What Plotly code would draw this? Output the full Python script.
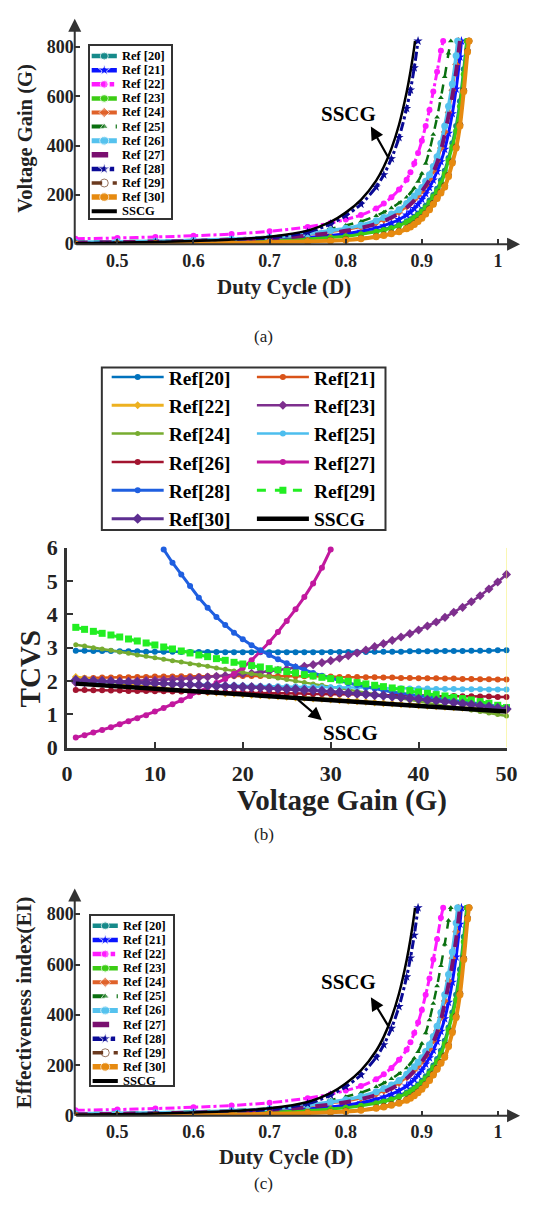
import plotly.graph_objects as go

W, H = 533, 1216
SERIF = "Liberation Serif"


def pxx(p):
    return p / W


def pxy(p):
    return 1 - p / H


# ---------------- panel (a) and (c): gain / effectiveness index vs duty cycle ----------------
D_GRID = [0.445, 0.5, 0.55, 0.6, 0.65, 0.7, 0.75, 0.78, 0.8, 0.82, 0.84, 0.85, 0.86,
          0.87, 0.88, 0.885, 0.89, 0.895, 0.9, 0.905, 0.91, 0.915, 0.92, 0.925, 0.93,
          0.935, 0.94, 0.945, 0.95, 0.955, 0.96]

G_REF20 = [4, 5, 6, 8, 11, 15, 23, 29, 35, 43, 53, 60, 69, 80, 93, 101, 111, 124, 139, 156,
           177, 200, 225, 258, 298, 350, 410, 480, 580, 710]
G_REF21 = [5, 6, 8, 10, 13, 18, 27, 35, 42, 52, 66, 75, 86, 100, 118, 130, 145, 162, 182, 205,
           230, 260, 295, 335, 385, 450, 530, 630, 760]
G_REF22 = [22, 25, 29, 34, 41, 52, 70, 86, 100, 118, 145, 165, 190, 222, 262, 292, 328, 370,
           420, 480, 545, 620, 700, 785]
G_REF23 = [3, 4, 5, 7, 10, 14, 21, 27, 32, 40, 50, 57, 65, 75, 88, 96, 106, 118, 132, 148,
           168, 192, 215, 245, 285, 340, 395, 460, 560, 690]
G_REF24 = [7, 9, 11, 14, 18, 25, 38, 50, 58, 70, 87, 99, 112, 130, 153, 167, 182, 198, 216,
           238, 265, 298, 338, 390, 455, 535, 625, 730]
G_REF25 = [10, 12, 14, 17, 22, 30, 45, 62, 76, 92, 115, 130, 147, 167, 190, 207, 228, 254,
           287, 328, 380, 445, 515, 595, 680, 775]
G_REF26 = [8, 10, 12, 15, 20, 27, 42, 55, 64, 77, 95, 108, 122, 140, 165, 180, 195, 212, 230,
           255, 282, 315, 355, 410, 480, 560, 650, 765]
G_REF27 = [6, 8, 10, 13, 17, 23, 35, 45, 54, 66, 82, 94, 108, 125, 148, 162, 178, 196, 215,
           237, 262, 292, 330, 380, 445, 520, 600, 700]
G_REF28 = [3, 5, 7, 10, 15, 25, 48, 82, 116, 162, 232, 282, 347, 433, 551, 626, 716]
G_REF29 = [1, 2, 3, 4, 6, 9, 12, 15, 19, 24, 32, 38, 45, 53, 65, 73, 83, 95, 108, 125, 144,
           166, 189, 212, 238, 280, 335, 395, 485, 625, 785]
G_REF30 = [0, 1, 2, 3, 5, 8, 11, 14, 17, 22, 30, 35, 42, 50, 62, 70, 80, 92, 105, 122, 140,
           162, 185, 208, 232, 275, 330, 390, 480, 620, 780]
G_SSCG = [4, 6, 9, 13, 19, 30, 55, 90, 128, 180, 258, 314, 388, 485, 617, 700, 800]

# duty cycle where each curve leaves the top of the chart, and the gain there
END_D = {"Ref [20]": 0.959, "Ref [21]": 0.952, "Ref [22]": 0.928, "Ref [23]": 0.959,
         "Ref [24]": 0.948, "Ref [25]": 0.938, "Ref [26]": 0.947, "Ref [27]": 0.95,
         "Ref [28]": 0.895, "Ref [29]": 0.962, "Ref [30]": 0.962, "SSCG": 0.891}
END_G = 825

A_NAMES = ["Ref [20]", "Ref [21]", "Ref [22]", "Ref [23]", "Ref [24]", "Ref [25]",
           "Ref [26]", "Ref [27]", "Ref [28]", "Ref [29]", "Ref [30]", "SSCG"]
A_VALUES = [G_REF20, G_REF21, G_REF22, G_REF23, G_REF24, G_REF25,
            G_REF26, G_REF27, G_REF28, G_REF29, G_REF30, G_SSCG]

# style: colour, line width, dash, marker symbol, marker size
A_STYLE = {
    "Ref [20]": ("#168a8a", 3, "solid", "circle", 6),
    "Ref [21]": ("#0a14ff", 3, "solid", "star", 7),
    "Ref [22]": ("#ff1aff", 3, "dashdot", "circle", 6),
    "Ref [23]": ("#3ccc14", 3, "solid", "circle", 6),
    "Ref [24]": ("#e0622a", 2.5, "solid", "diamond", 6),
    "Ref [25]": ("#0a7010", 2.5, "dash", "triangle-up", 5),
    "Ref [26]": ("#55c2ee", 3.5, "solid", "circle", 7),
    "Ref [27]": ("#7a1070", 4, "dash", None, 0),
    "Ref [28]": ("#0a0a96", 3, "dashdot", "star", 7),
    "Ref [29]": ("#6b3a1f", 2, "dash", "circle-open", 6),
    "Ref [30]": ("#e68a10", 4, "solid", "circle", 7),
    "SSCG": ("#000000", 2.5, "solid", None, 0),
}

X_TICKS_A = [0.5, 0.6, 0.7, 0.8, 0.9, 1.0]
X_TICKTEXT_A = ["0.5", "0.6", "0.7", "0.8", "0.9", "1"]
Y_TICKS_A = [0, 200, 400, 600, 800]

# ---------------- panel (b): TCVS vs voltage gain ----------------
G_B = [1, 2, 3, 4, 5, 6, 7, 8, 9, 10, 11, 12, 13, 14, 15, 16, 17, 18, 19, 20, 21, 22, 23, 24,
       25, 26, 27, 28, 29, 30, 31, 32, 33, 34, 35, 36, 37, 38, 39, 40, 41, 42, 43, 44, 45, 46,
       47, 48, 49, 50]

T_REF20 = [2.91, 2.91, 2.90, 2.90, 2.90, 2.89, 2.89, 2.89, 2.88, 2.88, 2.88, 2.88, 2.87, 2.87,
           2.87, 2.87, 2.87, 2.86, 2.86, 2.86, 2.86, 2.86, 2.86, 2.86, 2.86, 2.86, 2.86, 2.86,
           2.86, 2.87, 2.87, 2.87, 2.87, 2.87, 2.88, 2.88, 2.88, 2.88, 2.89, 2.89, 2.89, 2.89,
           2.90, 2.90, 2.90, 2.91, 2.91, 2.91, 2.92, 2.92]
T_REF21 = [2.08, 2.09, 2.09, 2.10, 2.10, 2.11, 2.11, 2.12, 2.12, 2.13, 2.13, 2.13, 2.14, 2.14,
           2.14, 2.14, 2.15, 2.15, 2.15, 2.15, 2.15, 2.15, 2.15, 2.14, 2.14, 2.14, 2.14, 2.13,
           2.13, 2.13, 2.12, 2.12, 2.12, 2.11, 2.11, 2.10, 2.10, 2.09, 2.09, 2.08, 2.08, 2.08,
           2.07, 2.07, 2.06, 2.06, 2.05, 2.05, 2.04, 2.04]
T_REF22 = [2.12, 2.08, 2.03, 1.99, 1.95, 1.92, 1.89, 1.86, 1.83, 1.80, 1.78, 1.75, 1.73, 1.70,
           1.68, 1.66, 1.65, 1.63, 1.62, 1.60, 1.58, 1.57, 1.55, 1.54, 1.52, 1.50, 1.49, 1.47,
           1.46, 1.44, 1.42, 1.40, 1.39, 1.37, 1.35, 1.33, 1.32, 1.30, 1.29, 1.27, 1.25, 1.24,
           1.22, 1.21, 1.19, 1.17, 1.16, 1.14, 1.13, 1.11]
T_REF23 = [1.95, 1.95, 1.96, 1.96, 1.97, 1.98, 1.99, 2.00, 2.01, 2.02, 2.03, 2.05, 2.06, 2.08,
           2.10, 2.12, 2.14, 2.16, 2.18, 2.21, 2.23, 2.26, 2.29, 2.32, 2.36, 2.40, 2.44, 2.49,
           2.55, 2.61, 2.68, 2.76, 2.84, 2.93, 3.03, 3.12, 3.22, 3.32, 3.42, 3.53, 3.65, 3.77,
           3.91, 4.06, 4.21, 4.38, 4.56, 4.76, 4.97, 5.20]
T_REF24 = [3.09, 3.05, 3.00, 2.96, 2.92, 2.87, 2.83, 2.78, 2.74, 2.70, 2.65, 2.61, 2.57, 2.52,
           2.48, 2.44, 2.39, 2.35, 2.30, 2.26, 2.22, 2.17, 2.13, 2.09, 2.04, 2.00, 1.95, 1.91,
           1.87, 1.82, 1.78, 1.74, 1.69, 1.65, 1.61, 1.56, 1.52, 1.47, 1.43, 1.39, 1.34, 1.30,
           1.26, 1.21, 1.17, 1.13, 1.08, 1.04, 0.99, 0.95]
T_REF25 = [2.00, 1.99, 1.98, 1.98, 1.97, 1.96, 1.95, 1.95, 1.94, 1.93, 1.92, 1.91, 1.91, 1.90,
           1.89, 1.89, 1.88, 1.87, 1.87, 1.86, 1.85, 1.85, 1.84, 1.84, 1.83, 1.83, 1.82, 1.82,
           1.81, 1.81, 1.80, 1.80, 1.80, 1.79, 1.79, 1.78, 1.78, 1.78, 1.77, 1.77, 1.77, 1.76,
           1.76, 1.76, 1.75, 1.75, 1.75, 1.74, 1.74, 1.74]
T_REF26 = [1.73, 1.73, 1.72, 1.72, 1.71, 1.71, 1.70, 1.70, 1.70, 1.69, 1.69, 1.68, 1.68, 1.67,
           1.67, 1.67, 1.66, 1.66, 1.65, 1.65, 1.64, 1.64, 1.64, 1.63, 1.63, 1.62, 1.62, 1.61,
           1.61, 1.61, 1.60, 1.60, 1.59, 1.59, 1.58, 1.58, 1.58, 1.57, 1.57, 1.56, 1.56, 1.55,
           1.55, 1.55, 1.54, 1.54, 1.53, 1.53, 1.52, 1.52]
T_REF27 = [0.30, 0.37, 0.45, 0.53, 0.61, 0.70, 0.79, 0.88, 0.97, 1.08, 1.19, 1.30, 1.42, 1.55,
           1.68, 1.81, 1.94, 2.06, 2.22, 2.40, 2.62, 2.88, 3.16, 3.47, 3.80, 4.15, 4.52, 4.93,
           5.40, 5.95]                       # G = 1 .. 30
T_REF28 = [5.95, 5.55, 5.20, 4.85, 4.50, 4.20, 3.92, 3.68, 3.45, 3.25, 3.07, 2.92, 2.78, 2.65,
           2.53, 2.43, 2.33, 2.24, 2.16, 2.08, 2.01, 1.94, 1.88, 1.82, 1.77, 1.72, 1.67, 1.63,
           1.59, 1.55, 1.52, 1.48, 1.45, 1.41, 1.38, 1.34, 1.31, 1.27, 1.24, 1.20]  # G = 11 .. 50
T_REF29 = [3.61, 3.55, 3.49, 3.43, 3.38, 3.32, 3.26, 3.20, 3.14, 3.08, 3.02, 2.96, 2.90, 2.84,
           2.78, 2.73, 2.67, 2.62, 2.56, 2.51, 2.46, 2.42, 2.37, 2.33, 2.28, 2.24, 2.19, 2.15,
           2.11, 2.07, 2.03, 1.99, 1.95, 1.91, 1.87, 1.83, 1.79, 1.75, 1.71, 1.67, 1.63, 1.59,
           1.55, 1.51, 1.47, 1.43, 1.38, 1.33, 1.27, 1.20]
T_REF30 = [2.03, 2.02, 2.01, 2.00, 1.99, 1.97, 1.96, 1.95, 1.94, 1.93, 1.92, 1.91, 1.90, 1.89,
           1.88, 1.86, 1.85, 1.84, 1.83, 1.82, 1.81, 1.80, 1.78, 1.77, 1.76, 1.75, 1.73, 1.72,
           1.70, 1.68, 1.66, 1.64, 1.62, 1.60, 1.58, 1.56, 1.53, 1.51, 1.48, 1.46, 1.43, 1.41,
           1.38, 1.35, 1.32, 1.29, 1.26, 1.23, 1.19, 1.16]
T_SSCG = [1.92, 1.90, 1.89, 1.87, 1.85, 1.83, 1.82, 1.80, 1.78, 1.77, 1.75, 1.73, 1.71, 1.70,
          1.68, 1.66, 1.65, 1.63, 1.61, 1.59, 1.58, 1.56, 1.54, 1.53, 1.51, 1.49, 1.47, 1.46,
          1.44, 1.42, 1.41, 1.39, 1.37, 1.35, 1.34, 1.32, 1.30, 1.29, 1.27, 1.25, 1.23, 1.22,
          1.20, 1.18, 1.17, 1.15, 1.13, 1.11, 1.10, 1.08]

B_NAMES = ["Ref[20]", "Ref[21]", "Ref[22]", "Ref[23]", "Ref[24]", "Ref[25]",
           "Ref[26]", "Ref[27]", "Ref[28]", "Ref[29]", "Ref[30]", "SSCG"]
B_X = [G_B, G_B, G_B, G_B, G_B, G_B, G_B, G_B[:30], G_B[10:], G_B, G_B, G_B]
B_VALUES = [T_REF20, T_REF21, T_REF22, T_REF23, T_REF24, T_REF25,
            T_REF26, T_REF27, T_REF28, T_REF29, T_REF30, T_SSCG]
B_STYLE = {
    "Ref[20]": ("#0072bd", 2.5, "solid", "circle", 6),
    "Ref[21]": ("#d95319", 2.5, "solid", "circle", 6),
    "Ref[22]": ("#edb120", 3, "solid", "diamond", 6),
    "Ref[23]": ("#7e2f8e", 2.5, "solid", "diamond", 7),
    "Ref[24]": ("#77ac30", 2.5, "solid", "circle", 5),
    "Ref[25]": ("#4dbeee", 2.5, "solid", "circle", 6),
    "Ref[26]": ("#a2142f", 2.5, "solid", "circle", 6),
    "Ref[27]": ("#c2189e", 3, "solid", "circle", 6),
    "Ref[28]": ("#1f5fe0", 3, "solid", "circle", 6),
    "Ref[29]": ("#22ee22", 3, "dash", "square", 7),
    "Ref[30]": ("#5d2e91", 3, "solid", "diamond", 8),
    "SSCG": ("#000000", 4.5, "solid", None, 0),
}
B_LEGEND = {"Ref[20]": "legend", "Ref[22]": "legend", "Ref[24]": "legend", "Ref[26]": "legend",
            "Ref[28]": "legend", "Ref[30]": "legend", "Ref[21]": "legend2",
            "Ref[23]": "legend2", "Ref[25]": "legend2", "Ref[27]": "legend2",
            "Ref[29]": "legend2", "SSCG": "legend2"}

fig = go.Figure()

# ---- curves of panels (a) and (c) ----
for xa, ya in (("x", "y"), ("x3", "y3")):
    for name, vals in zip(A_NAMES, A_VALUES):
        col, lw, dash, sym, ms = A_STYLE[name]
        xs = D_GRID[:len(vals)] + [END_D[name]]
        ys = vals + [END_G]
        fig.add_trace(go.Scatter(
            x=xs, y=ys, xaxis=xa, yaxis=ya, name=name, showlegend=False,
            mode="lines+markers" if sym else "lines", line_shape="spline",
            line=dict(color=col, width=lw, dash=dash, smoothing=0.8),
            marker=dict(symbol=sym or "circle", size=ms, color=col),
            hoverinfo="skip"))

# ---- curves of panel (b) ----
for name, xs, vals in zip(B_NAMES, B_X, B_VALUES):
    col, lw, dash, sym, ms = B_STYLE[name]
    fig.add_trace(go.Scatter(
        x=xs, y=vals, xaxis="x2", yaxis="y2", name=name, legend=B_LEGEND[name],
        mode="lines+markers" if sym else "lines", cliponaxis=False,
        line=dict(color=col, width=lw, dash=dash),
        marker=dict(symbol=sym or "circle", size=ms, color=col),
        hoverinfo="skip"))

# ---- hand-placed legends of panels (a) and (c) (one short sample per series) ----
LEG_FIRST, LEG_STEP = 10, 14.4
LEG_SAMPLE_X = [1.5, 14.5, 27.5]
LEG_TEXT_X = 31
annotations = []
for xa, ya in (("x4", "y4"), ("x5", "y5")):
    for i, name in enumerate(A_NAMES):
        col, lw, dash, sym, ms = A_STYLE[name]
        row = LEG_FIRST + i * LEG_STEP
        fig.add_trace(go.Scatter(
            x=LEG_SAMPLE_X, y=[row] * 3, xaxis=xa, yaxis=ya, showlegend=False,
            mode="lines+markers" if sym else "lines",
            line=dict(color=col, width=lw + 1.5, dash=dash),
            marker=dict(symbol=sym or "circle", size=[0, ms + 2, 0], color=col),
            hoverinfo="skip"))
        annotations.append(dict(
            x=LEG_TEXT_X, y=row, xref=xa, yref=ya, text=name, showarrow=False,
            xanchor="left", yanchor="middle",
            font=dict(family=SERIF, size=12.5, weight="bold", color="black")))

# axis arrows of (a) and (c)
for xa, ya, ytop in (("x", "y", 915), ("x3", "y3", 901)):
    annotations.append(dict(x=1.029, y=0, ax=0.444, ay=0, xref=xa, yref=ya, axref=xa,
                            ayref=ya, showarrow=True, arrowhead=2, arrowsize=1.3,
                            arrowwidth=2, arrowcolor="#333", text=""))
    annotations.append(dict(x=0.444, y=ytop, ax=0.444, ay=0, xref=xa, yref=ya, axref=xa,
                            ayref=ya, showarrow=True, arrowhead=2, arrowsize=1.3,
                            arrowwidth=2, arrowcolor="#333", text=""))

# SSCG call-outs
for xa, ya, tx, ty, hx, hy, sx, sy in (("x", "y", 0.803, 529, 0.833, 478, 0.857, 346),
                                       ("x3", "y3", 0.803, 530, 0.833, 470, 0.857, 351)):
    annotations.append(dict(x=tx, y=ty, xref=xa, yref=ya, text="SSCG", showarrow=False,
                            font=dict(family=SERIF, size=21, weight="bold", color="black")))
    annotations.append(dict(x=hx, y=hy, ax=sx, ay=sy, xref=xa, yref=ya, axref=xa, ayref=ya,
                            showarrow=True, arrowhead=2, arrowsize=1.2, arrowwidth=2.2,
                            arrowcolor="black", text=""))
annotations.append(dict(x=32.3, y=0.44, xref="x2", yref="y2", text="SSCG", showarrow=False,
                        font=dict(family=SERIF, size=21, weight="bold", color="black")))
annotations.append(dict(x=29.0, y=0.82, ax=26.1, ay=1.48, xref="x2", yref="y2", axref="x2",
                        ayref="y2", showarrow=True, arrowhead=2, arrowsize=1.2,
                        arrowwidth=2.2, arrowcolor="black", text=""))

# axis titles and captions
TITLE_FONT = dict(family=SERIF, weight="bold", color="#222")
for txt, x, y, size, ang in (("Voltage Gain (G)", 20, 129, 20.5, -90),
                             ("Duty Cycle (D)", 287, 281, 21, 0),
                             ("TCVS", 25, 671, 29, -90),
                             ("Voltage Gain (G)", 347, 805, 29, 0),
                             ("Effectiveness index(EI)", 19, 1011, 21.5, -90),
                             ("Duty Cycle (D)", 289, 1169, 21, 0)):
    annotations.append(dict(x=pxx(x), y=pxy(y), xref="paper", yref="paper", text=txt,
                            showarrow=False, textangle=ang, xanchor="center",
                            yanchor="middle", font=dict(TITLE_FONT, size=size)))
for txt, y in (("(a)", 320), ("(b)", 852), ("(c)", 1208)):
    annotations.append(dict(x=pxx(266), y=pxy(y), xref="paper", yref="paper", text=txt,
                            showarrow=False, font=dict(family=SERIF, size=17, color="#222")))

TICKFONT_A = dict(family=SERIF, size=18, weight="bold", color="#222")
TICKFONT_B = dict(family=SERIF, size=22, weight="bold", color="#222")
common_a = dict(showgrid=False, zeroline=False, showline=False, ticks="inside", ticklen=5,
                tickwidth=1.5, tickcolor="#333")
leg_axis = dict(showgrid=False, zeroline=False, showticklabels=False, ticks="",
                showline=True, mirror=True, linecolor="#333", linewidth=2)
LEG_FONT = dict(family=SERIF, size=19.5, weight="bold", color="black")

fig.update_layout(
    width=W, height=H, margin=dict(l=0, r=0, t=0, b=0),
    paper_bgcolor="white", plot_bgcolor="white",
    xaxis=dict(common_a, domain=[pxx(71), pxx(531)], range=[0.444, 1.029], anchor="y",
               tickvals=X_TICKS_A, ticktext=X_TICKTEXT_A, tickfont=TICKFONT_A,
               ticklabelstandoff=4),
    yaxis=dict(common_a, domain=[pxy(237), pxy(7)], range=[0, 915], anchor="x",
               tickvals=Y_TICKS_A, tickfont=TICKFONT_A, ticklabelstandoff=0),
    xaxis2=dict(domain=[pxx(63), pxx(517)], range=[0, 50], anchor="y2", showgrid=False,
                zeroline=False, showline=True, linecolor="#333", linewidth=2.5,
                ticks="inside", ticklen=6, tickwidth=2, tickcolor="#333",
                tickvals=[0, 10, 20, 30, 40, 50], tickfont=TICKFONT_B, ticklabelstandoff=4),
    yaxis2=dict(domain=[pxy(751), pxy(547)], range=[0, 6], anchor="x2", showgrid=False,
                zeroline=False, showline=True, linecolor="#333", linewidth=2.5,
                ticks="inside", ticklen=6, tickwidth=2, tickcolor="#333",
                tickvals=[0, 1, 2, 3, 4, 5, 6], tickfont=TICKFONT_B, ticklabelstandoff=2),
    xaxis3=dict(common_a, domain=[pxx(71), pxx(531)], range=[0.444, 1.029], anchor="y3",
                tickvals=X_TICKS_A, ticktext=X_TICKTEXT_A, tickfont=TICKFONT_A,
                ticklabelstandoff=3),
    yaxis3=dict(common_a, domain=[pxy(1127), pxy(895)], range=[0, 901], anchor="x3",
                tickvals=Y_TICKS_A, tickfont=TICKFONT_A, ticklabelstandoff=0),
    xaxis4=dict(leg_axis, domain=[pxx(87), pxx(170)], range=[0, 83], anchor="y4"),
    yaxis4=dict(leg_axis, domain=[pxy(210), pxy(35)], range=[175, 0], anchor="x4"),
    xaxis5=dict(leg_axis, domain=[pxx(88), pxx(172)], range=[0, 84], anchor="y5"),
    yaxis5=dict(leg_axis, domain=[pxy(1096), pxy(923)], range=[173, 0], anchor="x5"),
    legend=dict(x=pxx(104), y=pxy(353), xanchor="left", yanchor="top",
                bgcolor="rgba(0,0,0,0)", borderwidth=0, font=LEG_FONT, itemwidth=52,
                tracegroupgap=0),
    legend2=dict(x=pxx(254), y=pxy(353), xanchor="left", yanchor="top",
                 bgcolor="rgba(0,0,0,0)", borderwidth=0, font=LEG_FONT, itemwidth=52,
                 tracegroupgap=0),
    annotations=annotations,
    shapes=[
        dict(type="rect", xref="paper", yref="paper", x0=pxx(99), x1=pxx(392),
             y0=pxy(529), y1=pxy(363), line=dict(color="#333", width=2)),
        dict(type="line", xref="x2", yref="y2", x0=50, x1=50, y0=0, y1=6,
             line=dict(color="#f5f06a", width=1)),
    ],
)

fig.write_html("out.html")
